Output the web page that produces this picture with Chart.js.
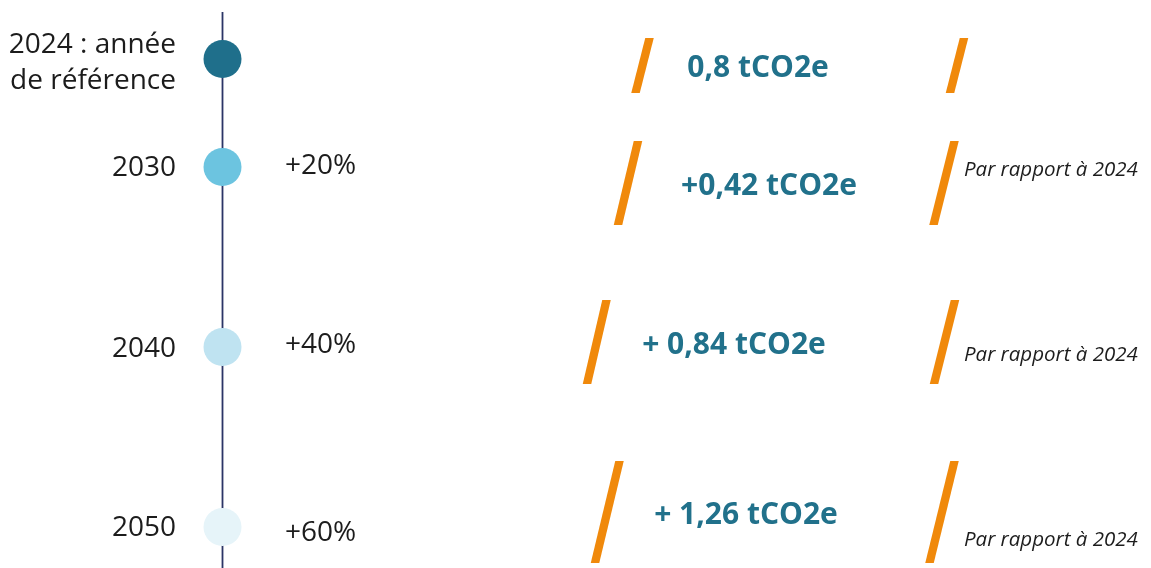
<!DOCTYPE html>
<html lang="fr">
<head>
<meta charset="utf-8">
<title>Trajectoire tCO2e</title>
<script src="https://cdn.jsdelivr.net/npm/chart.js@4/dist/chart.umd.min.js"></script>
<style>
  html, body { margin: 0; padding: 0; background: #ffffff; }
  #wrap { width: 1151px; height: 568px; position: relative; }
</style>
</head>
<body>
<div id="wrap"><canvas id="c"></canvas></div>
<script>
// ---- DATA ----
const years = [2024, 2030, 2040, 2050];
const yearLabels = [["2024 : année", "de référence"], ["2030"], ["2040"], ["2050"]];
const pctLabels = ["", "+20%", "+40%", "+60%"];
const valueLabels = ["0,8 tCO2e", "+0,42 tCO2e", "+ 0,84 tCO2e", "+ 1,26 tCO2e"];
const noteLabels = ["", "Par rapport à 2024", "Par rapport à 2024", "Par rapport à 2024"];

// ---- STYLE / LAYOUT (not data) ----
const pointColors = ["#1f6f8b", "#6cc4e0", "#bfe3f1", "#e6f4f9"];
const timelineX = 222.5;
const yearLabelX = 176, yearLabelDy = [4, 1, 2, 1];
const pctX = 285, pctDy = [0, -1, -2, 6];
const valueCx = [758, 769, 734, 746], valueDy = [9, 19, -2, -12];
const noteX = 964, noteDy = [0, 3, 8, 13];
const slashW = 8.5;
// slashes: [xTop, dyTop, xBottom, dyBottom] relative to row pixel
const slashLeft = [[649.5, -21, 635.5, 34], [638, -26, 618, 58], [606.5, -47, 587, 37], [619.5, -66, 595, 36]];
const slashRight = [[964, -21, 950, 34], [954.5, -26, 933.5, 58], [955, -47, 934, 37], [954.5, -66, 929.5, 36]];

const overlay = {
  id: 'overlay',
  beforeDatasetsDraw(chart) {
    const ctx = chart.ctx, xs = chart.scales.x;
    ctx.save();
    ctx.strokeStyle = '#2b3566';
    ctx.lineWidth = 1.8;
    ctx.beginPath();
    ctx.moveTo(xs.getPixelForValue(timelineX), 12);
    ctx.lineTo(xs.getPixelForValue(timelineX), chart.height);
    ctx.stroke();
    ctx.restore();
  },
  afterDatasetsDraw(chart) {
    const ctx = chart.ctx, xs = chart.scales.x, ys = chart.scales.y;
    ctx.save();
    years.forEach((yr, i) => {
      const py = ys.getPixelForValue(yr);
      // year labels
      ctx.fillStyle = '#1c1c1c';
      ctx.font = '28px "Open Sans"';
      ctx.textAlign = 'right';
      ctx.textBaseline = 'middle';
      const lines = yearLabels[i];
      const lh = 36;
      lines.forEach((t, k) => {
        const off = (k - (lines.length - 1) / 2) * lh;
        ctx.fillText(t, xs.getPixelForValue(yearLabelX), py + yearLabelDy[i] + off);
      });
      // pct
      if (pctLabels[i]) {
        ctx.textAlign = 'left';
        ctx.fillText(pctLabels[i], xs.getPixelForValue(pctX), py + pctDy[i]);
      }
      // slashes (parallelograms with horizontal ends)
      ctx.fillStyle = '#f0890b';
      [slashLeft[i], slashRight[i]].forEach(s => {
        const xt = xs.getPixelForValue(s[0]), xb = xs.getPixelForValue(s[2]);
        const yt = py + s[1], yb = py + s[3];
        ctx.beginPath();
        ctx.moveTo(xt - slashW / 2, yt);
        ctx.lineTo(xt + slashW / 2, yt);
        ctx.lineTo(xb + slashW / 2, yb);
        ctx.lineTo(xb - slashW / 2, yb);
        ctx.closePath();
        ctx.fill();
      });
      // values
      ctx.fillStyle = '#21718b';
      ctx.font = 'bold 30px "Open Sans"';
      ctx.textAlign = 'center';
      ctx.fillText(valueLabels[i], xs.getPixelForValue(valueCx[i]), py + valueDy[i]);
      // notes
      if (noteLabels[i]) {
        ctx.fillStyle = '#1c1c1c';
        ctx.font = 'italic 20.5px "Open Sans"';
        ctx.textAlign = 'left';
        ctx.fillText(noteLabels[i], xs.getPixelForValue(noteX), py + noteDy[i]);
      }
    });
    ctx.restore();
  }
};

new Chart(document.getElementById('c'), {
  type: 'scatter',
  data: {
    datasets: [{
      data: years.map(y => ({ x: timelineX, y: y })),
      backgroundColor: pointColors,
      borderWidth: 0,
      pointRadius: 19,
      pointHoverRadius: 19,
      clip: false
    }]
  },
  options: {
    responsive: true,
    maintainAspectRatio: false,
    animation: false,
    layout: { padding: 0, autoPadding: false },
    plugins: { legend: { display: false }, tooltip: { enabled: false } },
    scales: {
      x: { type: 'linear', min: 0, max: 1151, display: false },
      y: { type: 'linear', min: 2020.72, max: 2052.28, reverse: true, display: false }
    }
  },
  plugins: [overlay]
});
</script>
</body>
</html>
